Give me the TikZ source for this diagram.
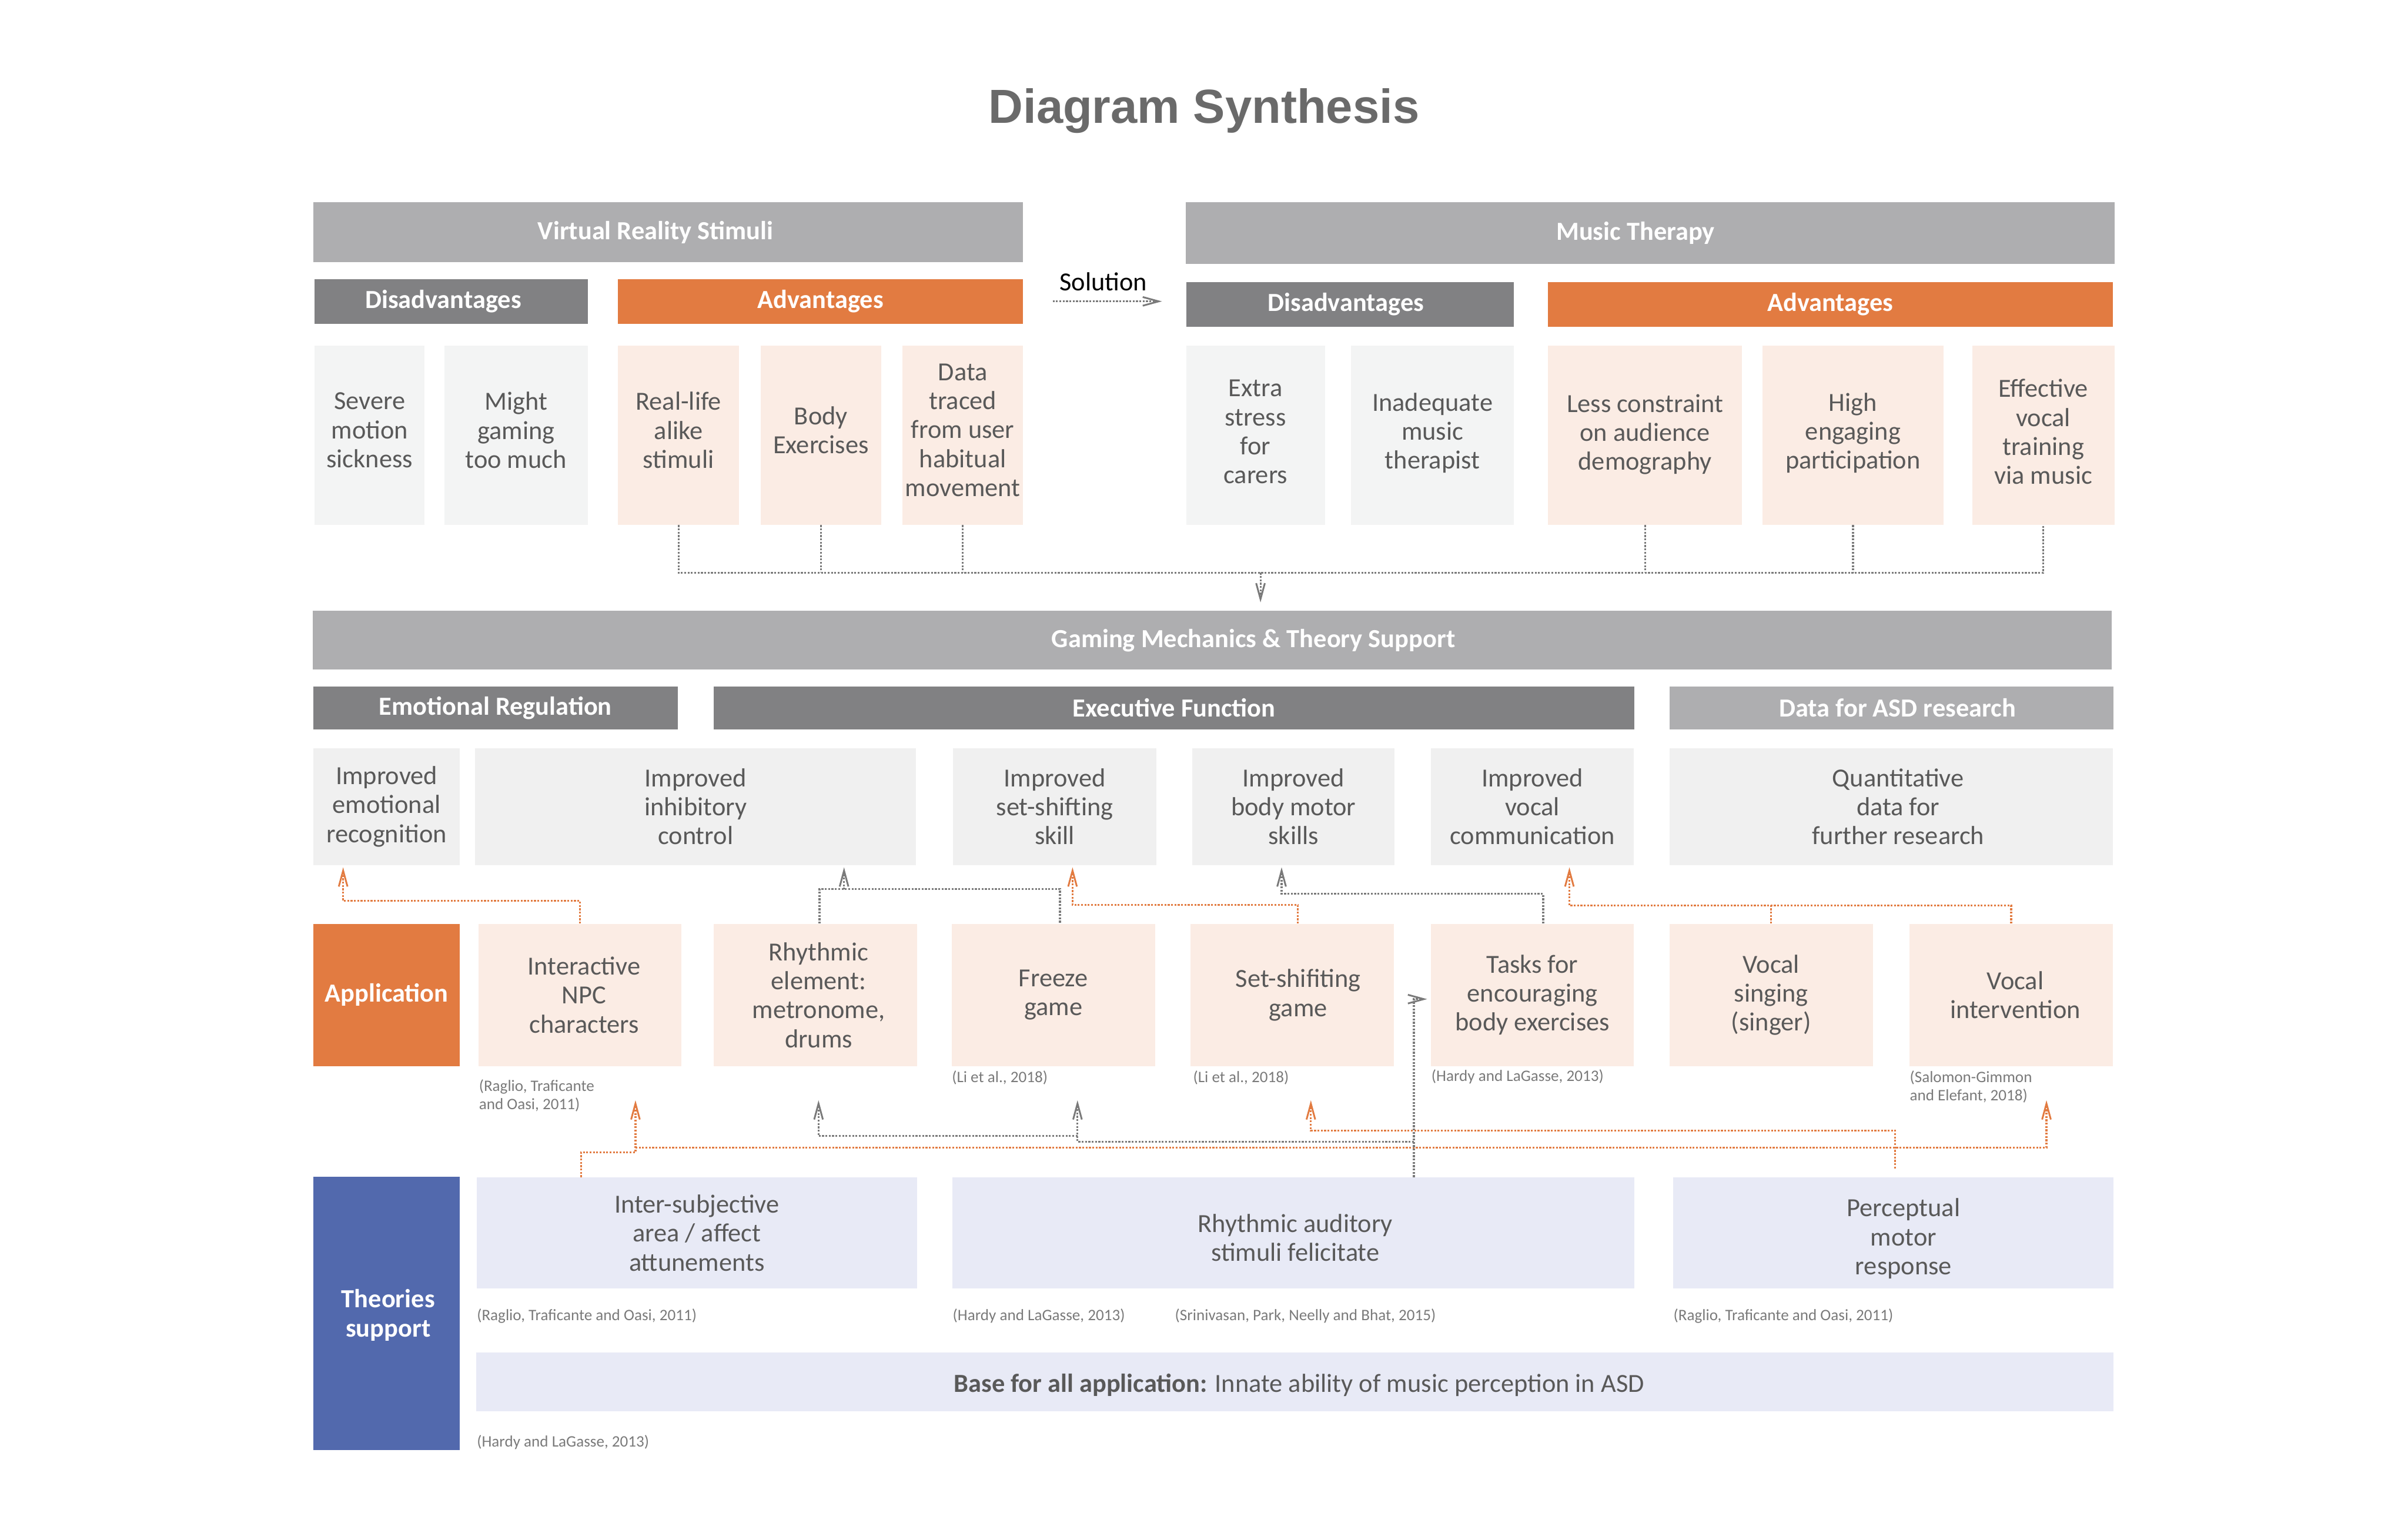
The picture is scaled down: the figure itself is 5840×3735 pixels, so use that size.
\documentclass[tikz,border=0pt]{standalone}
\usepackage{fontspec}
\setmainfont{Carlito}
\newfontfamily\titlefont{Liberation Sans}
\usetikzlibrary{arrows.meta,calc}
\definecolor{barGray}{HTML}{AEAEB0}
\definecolor{darkGray}{HTML}{818183}
\definecolor{accent}{HTML}{E27B41}
\definecolor{peach}{HTML}{FBECE4}
\definecolor{disbox}{HTML}{F3F4F4}
\definecolor{outbox}{HTML}{F0F0F0}
\definecolor{theoblue}{HTML}{5269AD}
\definecolor{lav}{HTML}{E8EAF6}
\definecolor{txt}{HTML}{595959}
\definecolor{citec}{HTML}{7A7A7A}
\definecolor{lineGray}{HTML}{7A7A7A}
\definecolor{titlegray}{HTML}{6A6A6A}

\newcommand\fBody{\fontsize{18pt}{20pt}\selectfont}
\newcommand\fHead{\fontsize{18pt}{20pt}\selectfont\bfseries}
\newcommand\fCite{\fontsize{11pt}{12.5pt}\selectfont}

\tikzset{
 cellbox/.style={rectangle, inner sep=0pt, align=center, font=\fBody, text=txt},
 hdr/.style={cellbox, font=\fHead, text=white},
 hbar/.style={hdr, fill=barGray},
 hdark/.style={hdr, fill=darkGray},
 horange/.style={hdr, fill=accent},
 hblue/.style={hdr, fill=theoblue},
 cdis/.style={cellbox, fill=disbox},
 cadv/.style={cellbox, fill=peach},
 cout/.style={cellbox, fill=outbox},
 ctheo/.style={cellbox, fill=lav},
 citation/.style={anchor=west, inner sep=0pt, align=left, font=\fCite, text=citec},
 conn/.style={line width=1.3pt, dash pattern=on 1.3pt off 1.0pt},
 gconn/.style={conn, draw=lineGray},
 oconn/.style={conn, draw=accent},
 arrowtip/.style={-{Straight Barb[length=11pt,width=6pt,line width=1.2pt]}},
}

% \bx{name}{x1}{y1}{x2}{y2}{style}{text}
\newcommand{\bx}[7]{%
  \pgfmathsetmacro\bxw{(#4-#2)*0.28453}%
  \pgfmathsetmacro\bxh{(#5-#3)*0.28453}%
  \node[#6, minimum width=\bxw pt, minimum height=\bxh pt] (#1) at ({(#2+#4)/2},{(#3+#5)/2}) {#7};}
% \bxo{name}{x1}{y1}{x2}{y2}{style}{dx}{dy}{text}  (text offset from centre)
\newcommand{\bxo}[9]{%
  \bx{#1}{#2}{#3}{#4}{#5}{#6}{}%
  \node[#6, fill=none] (#1-t) at ($(#1.center)+(#7,#8)$) {#9};}

\begin{document}
\begin{tikzpicture}[x=0.01cm, y=-0.01cm]
\useasboundingbox (0,0) rectangle (5840,3735);

\node[font=\titlefont\fontsize{33pt}{36pt}\selectfont\bfseries, text=titlegray, anchor=base, inner sep=0pt] (title) at (2920,299) {Diagram Synthesis};

% ---------- top section ----------
\bxo{vrbar}{761}{491}{2481}{636}{hbar}{-31}{0}{Virtual Reality Stimuli}
\bxo{mtbar}{2877}{491}{5128}{640}{hbar}{-36}{0}{Music Therapy}
\bxo{vrdis}{763}{677}{1425}{785}{hdark}{-19}{0}{Disadvantages}
\bx{vradv}{1499}{677}{2481}{785}{horange}{Advantages}
\bxo{mtdis}{2877}{685}{3671}{792}{hdark}{-10}{0}{Disadvantages}
\bx{mtadv}{3754}{685}{5124}{792}{horange}{Advantages}

\bxo{sev}{763}{838}{1030}{1273}{cdis}{0}{-12}{Severe\\motion\\sickness}
\bxo{might}{1078}{838}{1425}{1273}{cdis}{0}{-12}{Might\\gaming\\too much}
\bxo{real}{1499}{838}{1792}{1273}{cadv}{0}{-12}{Real-life\\alike\\stimuli}
\bxo{body}{1845}{838}{2137}{1273}{cadv}{0}{-12}{Body\\Exercises}
\bxo{data}{2189}{838}{2481}{1273}{cadv}{0}{-12}{Data\\traced\\from user\\habitual\\movement}
\bxo{extra}{2877}{838}{3213}{1273}{cdis}{0}{-8}{Extra\\stress\\for\\carers}
\bxo{inad}{3277}{838}{3671}{1273}{cdis}{0}{-5}{Inadequate\\music\\therapist}
\bxo{less}{3754}{838}{4225}{1273}{cadv}{0}{-2}{Less constraint\\on audience\\demography}
\bxo{high}{4275}{838}{4713}{1273}{cadv}{0}{-5}{High\\engaging\\participation}
\bxo{eff}{4783}{838}{5128}{1273}{cadv}{0}{-8}{Effective\\vocal\\training\\via music}

\node[font=\fBody, text=black, inner sep=0pt] (sol) at (2676,683) {Solution};
\draw[gconn, arrowtip] ($(vradv.east)+(71,0)$) -- ($(vradv.east -| mtdis.west)+(-58,0)$);

% ---------- middle section ----------
\bxo{gaming}{760}{1482}{5120}{1624}{hbar}{100}{0}{Gaming Mechanics \& Theory Support}
\bx{emoreg}{760}{1665}{1643}{1769}{hdark}{Emotional Regulation}
\bx{exec}{1732}{1665}{3963}{1769}{hdark}{Executive Function}
\bxo{dasd}{4049}{1665}{5125}{1769}{hbar}{15}{0}{Data for ASD research}

\bx{emo}{760}{1815}{1115}{2098}{cout}{Improved\\emotional\\recognition}
\bx{inh}{1153}{1815}{2221}{2098}{cout}{Improved\\inhibitory\\control}
\bx{ssk}{2312}{1815}{2804}{2098}{cout}{Improved\\set-shifting\\skill}
\bx{bms}{2892}{1815}{3382}{2098}{cout}{Improved\\body motor\\skills}
\bx{vcom}{3471}{1815}{3962}{2098}{cout}{Improved\\vocal\\communication}
\bxo{quant}{4049}{1815}{5124}{2098}{cout}{17}{0}{Quantitative\\data for\\further research}

\bx{app}{760}{2241}{1115}{2586}{horange}{Application}
\bxo{npc}{1161}{2241}{1652}{2586}{cadv}{10}{0}{Interactive\\NPC\\characters}
\bxo{rel}{1731}{2241}{2224}{2586}{cadv}{8}{0}{Rhythmic\\element:\\metronome,\\drums}
\bx{frz}{2308}{2241}{2801}{2586}{cadv}{Freeze\\game}
\bxo{ssg}{2887}{2241}{3380}{2586}{cadv}{15}{0}{Set-shifiting\\game}
\bx{tasks}{3471}{2241}{3962}{2586}{cadv}{Tasks for\\encouraging\\body exercises}
\bx{vsing}{4049}{2241}{4542}{2586}{cadv}{Vocal\\singing\\(singer)}
\bxo{vint}{4631}{2241}{5124}{2586}{cadv}{10}{0}{Vocal\\intervention}

\node[citation] (cnpc) at (1161,2657) {(Raglio, Traficante\\and Oasi, 2011)};
\node[citation] (cfrz) at (2308,2614) {(Li et al., 2018)};
\node[citation] (cssg) at (2893,2614) {(Li et al., 2018)};
\node[citation] (ctasks) at (3471,2611) {(Hardy and LaGasse, 2013)};
\node[citation] (cvint) at (4631,2636) {(Salomon-Gimmon\\and Elefant, 2018)};

% ---------- theories ----------
\bxo{theo}{760}{2855}{1115}{3517}{hblue}{4}{4}{Theories\\support}
\bx{inter}{1156}{2856}{2224}{3125}{ctheo}{Inter-subjective\\area / affect\\attunements}
\bxo{rhyt}{2310}{2856}{3963}{3125}{ctheo}{5}{12}{Rhythmic auditory\\stimuli felicitate}
\bxo{perc}{4058}{2856}{5125}{3125}{ctheo}{25}{14}{Perceptual\\motor\\response}
\bxo{base}{1156}{3280}{5125}{3423}{ctheo}{10}{8}{\textbf{Base for all application:} Innate ability of music perception in ASD}

\node[citation] (cinter) at (1156,3192) {(Raglio, Traficante and Oasi, 2011)};
\node[citation] (crhy1) at (2310,3192) {(Hardy and LaGasse, 2013)};
\node[citation] (crhy2) at (2849,3192) {(Srinivasan, Park, Neelly and Bhat, 2015)};
\node[citation] (cperc) at (4058,3192) {(Raglio, Traficante and Oasi, 2011)};
\node[citation] (cbase) at (1156,3498) {(Hardy and LaGasse, 2013)};

% ---------- top connectors ----------
\coordinate (hub) at ($(gaming.north west)+(2299,-92)$);
\draw[gconn] (real.south) -- (real.south |- hub) -- (eff.south |- hub) -- (eff.south);
\draw[gconn] (body.south) -- (body.south |- hub);
\draw[gconn] (data.south) -- (data.south |- hub);
\draw[gconn] (less.south) -- (less.south |- hub);
\draw[gconn] (high.south) -- (high.south |- hub);
\draw[gconn, arrowtip, shorten >=0.2cm] (hub) -- (gaming.north -| hub);

% ---------- application -> outcomes ----------
\draw[oconn, arrowtip] (npc.north) -- ++(0,-55) -| ($(emo.south west)+(73,5)$);
\draw[gconn] ($(rel.north)+(10,0)$) -- ++(0,-84) -| ($(frz.north)+(16,0)$);
\draw[gconn, arrowtip] ($(inh.south west)+(895,59)$) -- ($(inh.south west)+(895,5)$);
\draw[oconn, arrowtip] ($(ssg.north)+(14,0)$) -- ++(0,-45) -| ($(ssk.south west)+(290,5)$);
\draw[gconn, arrowtip] ($(tasks.north)+(26,0)$) -- ++(0,-72) -| ($(bms.south west)+(217,5)$);
\draw[oconn] (vsing.north) -- ++(0,-44);
\draw[oconn, arrowtip] (vint.north) -- ++(0,-44) -| ($(vcom.south west)+(336,5)$);

% ---------- theories -> application ----------
\draw[oconn, arrowtip] ($(inter.north west)+(254,0)$) -- ++(0,-60) -| ($(npc.south west)+(381,82)$);
\draw[oconn, arrowtip] ($(npc.south west)+(381,197)$) -| ($(vint.south west)+(333,82)$);
\draw[gconn, arrowtip] ($(rhyt.north west)+(1120,0)$) |- ($(tasks.west)+(-9,10)$);
\draw[gconn, arrowtip] ($(rhyt.north west)+(1120,-86)$) -| ($(frz.south west)+(306,82)$);
\draw[gconn, arrowtip] ($(frz.south west)+(306,169)$) -| ($(rel.south west)+(255,82)$);
\draw[oconn, arrowtip] ($(perc.north west)+(539,-21)$) -- ++(0,-92) -| ($(ssg.south west)+(293,82)$);
\end{tikzpicture}
\end{document}
